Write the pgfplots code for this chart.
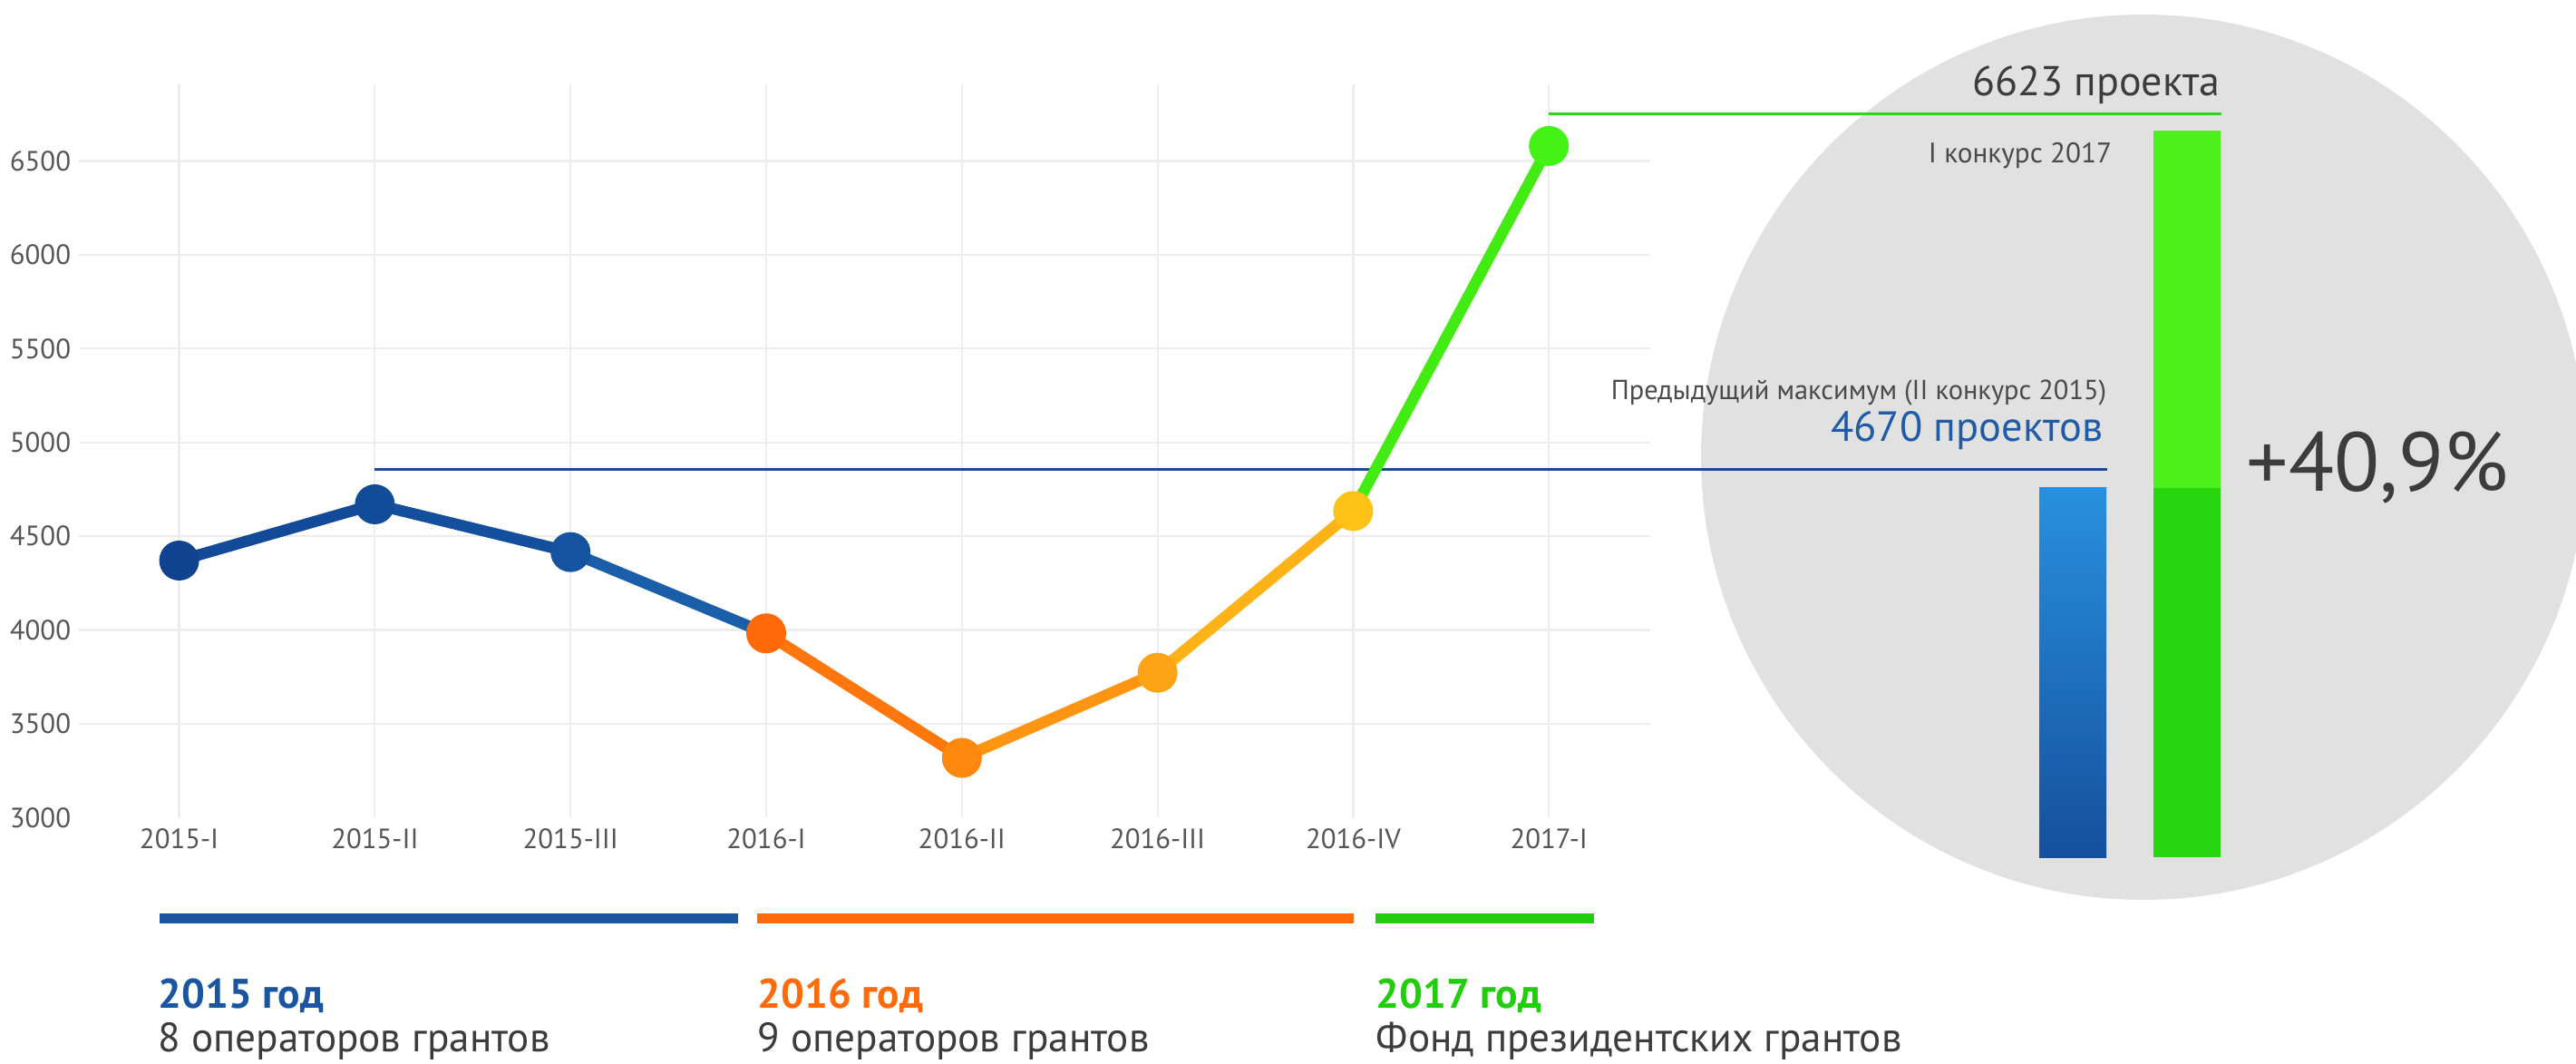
\documentclass[border=0pt]{standalone}
\usepackage{fontspec}
\setmainfont{PT Sans}
\usepackage{pgfplots}
\pgfplotsset{compat=1.18}
\definecolor{circlegray}{HTML}{E1E1E1}
\definecolor{gridgray}{HTML}{EDEDED}
\definecolor{ticktext}{HTML}{555555}
\definecolor{maintext}{HTML}{3C3C3C}
\definecolor{smalltext}{HTML}{4A4A4A}
\definecolor{refblue}{HTML}{1A4A96}
\definecolor{refgreen}{HTML}{2ED418}
\definecolor{sA}{HTML}{134A97}
\definecolor{sB}{HTML}{144F9E}
\definecolor{sC}{HTML}{1A5DA9}
\definecolor{sD}{HTML}{FF760C}
\definecolor{sE}{HTML}{FD9512}
\definecolor{sF}{HTML}{FDB217}
\definecolor{sG}{HTML}{42EC12}
\definecolor{mA}{HTML}{0F4390}
\definecolor{mB}{HTML}{124C99}
\definecolor{mC}{HTML}{1553A0}
\definecolor{mD}{HTML}{FF690A}
\definecolor{mE}{HTML}{FD870F}
\definecolor{mF}{HTML}{FCA414}
\definecolor{mG}{HTML}{FEC217}
\definecolor{mH}{HTML}{45F215}
\definecolor{bluetop}{HTML}{2890E0}
\definecolor{bluebot}{HTML}{15509B}
\definecolor{gbright}{HTML}{4DF01B}
\definecolor{gdark}{HTML}{26D60E}
\definecolor{c2015}{HTML}{1A55A0}
\definecolor{c2016}{HTML}{FF6A0A}
\definecolor{c2017}{HTML}{22CC0F}
\definecolor{num4670}{HTML}{1F5BA6}
\begin{document}
\begin{tikzpicture}
\useasboundingbox (0,0) rectangle (710.25pt,293pt);
% background circle
\begin{scope}[x=0.25pt,y=-0.25pt,shift={(0pt,293pt)}]
  \clip (0,0) rectangle (2841,1172);
  \fill[circlegray] (2364,504) circle[radius=488];
\end{scope}
% main line chart
\begin{axis}[
  at={(21.75pt,67.675pt)}, anchor=south west,
  scale only axis, width=433.25pt, height=202pt,
  xmin=-0.5125, xmax=7.518, ymin=3000, ymax=6907,
  axis line style={draw=none},
  tick style={draw=none},
  xtick={0,...,7},
  xticklabels={2015-I,2015-II,2015-III,2016-I,2016-II,2016-III,2016-IV,2017-I},
  ytick={3500,4000,...,6500},
  extra y ticks={3000}, extra y tick style={grid=none},
  grid=major, major grid style={draw=gridgray, line width=0.55pt},
  ticklabel style={font=\fontsize{7.7}{9}\selectfont, text=ticktext},
  xticklabel style={yshift=0.4pt},
  yticklabel style={xshift=1.3pt},
  scaled y ticks=false,
  /pgf/number format/1000 sep={},
  /pgf/number format/assume math mode=true,
  clip=false,
]
\draw[refblue, line width=0.75pt] (axis cs:1,4858) -- (axis cs:9.853,4858);
\draw[refgreen, line width=0.8pt] (axis cs:7,6750) -- (axis cs:10.435,6750);
\addplot[no markers, line width=3.1pt, color=sA, line cap=round] coordinates {(0,4370) (1,4670)};
\addplot[no markers, line width=3.1pt, color=sB, line cap=round] coordinates {(1,4670) (2,4415)};
\addplot[no markers, line width=3.1pt, color=sC, line cap=round] coordinates {(2,4415) (3,3982)};
\addplot[no markers, line width=3.1pt, color=sD, line cap=round] coordinates {(3,3982) (4,3318)};
\addplot[no markers, line width=3.1pt, color=sE, line cap=round] coordinates {(4,3318) (5,3772)};
\addplot[no markers, line width=3.1pt, color=sF, line cap=round] coordinates {(5,3772) (6,4634)};
\addplot[no markers, line width=3.1pt, color=sG, line cap=round] coordinates {(6,4634) (7,6580)};
\addplot[only marks, mark=*, mark size=5.3pt, mark options={fill=mA, draw=mA}] coordinates {(0,4370)};
\addplot[only marks, mark=*, mark size=5.3pt, mark options={fill=mB, draw=mB}] coordinates {(1,4670)};
\addplot[only marks, mark=*, mark size=5.3pt, mark options={fill=mC, draw=mC}] coordinates {(2,4415)};
\addplot[only marks, mark=*, mark size=5.3pt, mark options={fill=mD, draw=mD}] coordinates {(3,3982)};
\addplot[only marks, mark=*, mark size=5.3pt, mark options={fill=mE, draw=mE}] coordinates {(4,3318)};
\addplot[only marks, mark=*, mark size=5.3pt, mark options={fill=mF, draw=mF}] coordinates {(5,3772)};
\addplot[only marks, mark=*, mark size=5.3pt, mark options={fill=mG, draw=mG}] coordinates {(6,4634)};
\addplot[only marks, mark=*, mark size=5.3pt, mark options={fill=mH, draw=mH}] coordinates {(7,6580)};
\end{axis}
% comparison bars
\begin{axis}[
  at={(555.81pt,56.75pt)}, anchor=south west, scale only axis,
  width=62.75pt, height=221.65pt,
  xmin=-0.5, xmax=1.5, ymin=0, ymax=4400,
  hide axis,
  y filter/.expression={y-2650},
  ybar, bar width=18.5pt,
]
\addplot[fill=gbright, draw=none, bar shift=0pt] coordinates {(1,6623)};
\addplot[fill=gdark, draw=none, bar shift=0pt] coordinates {(1,4670)};
\addplot[draw=none, top color=bluetop, bottom color=bluebot, bar shift=0pt] coordinates {(0,4670)};
\end{axis}
% annotations
\begin{scope}[x=0.25pt,y=-0.25pt,shift={(0pt,293pt)}]
  \fill[c2015] (176,1007) rectangle (814,1018);
  \fill[c2016] (835,1007) rectangle (1493,1018);
  \fill[c2017] (1517,1007) rectangle (1758,1018);
  \node[anchor=base west, inner sep=0pt, text=c2015, font=\fontsize{11.4}{13}\selectfont\bfseries] at (174,1111) {2015 год};
  \node[anchor=base west, inner sep=0pt, text=c2016, font=\fontsize{11.4}{13}\selectfont\bfseries] at (835,1111) {2016 год};
  \node[anchor=base west, inner sep=0pt, text=c2017, font=\fontsize{11.4}{13}\selectfont\bfseries] at (1517,1111) {2017 год};
  \node[anchor=base west, inner sep=0pt, text=maintext, font=\fontsize{11.3}{13}\selectfont] at (174,1159) {8 операторов грантов};
  \node[anchor=base west, inner sep=0pt, text=maintext, font=\fontsize{11.3}{13}\selectfont] at (835,1159) {9 операторов грантов};
  \node[anchor=base west, inner sep=0pt, text=maintext, font=\fontsize{11.3}{13}\selectfont] at (1517,1159) {Фонд президентских грантов};
  \node[anchor=base east, inner sep=0pt, text=maintext, font=\fontsize{11.5}{13}\selectfont] at (2449,105) {6623 проекта};
  \node[anchor=base east, inner sep=0pt, text=smalltext, font=\fontsize{7.8}{9}\selectfont] at (2330,179) {I конкурс 2017};
  \node[anchor=base east, inner sep=0pt, text=smalltext, font=\fontsize{7.6}{9}\selectfont] at (2324,440) {Предыдущий максимум (II конкурс 2015)};
  \node[anchor=base east, inner sep=0pt, text=num4670, font=\fontsize{11.6}{13}\selectfont] at (2320,486) {4670 проектов};
  \node[anchor=base west, inner sep=0pt, text=maintext, font=\fontsize{23}{26}\selectfont] at (2477,541) {+40,9\%};
\end{scope}
\end{tikzpicture}
\end{document}
